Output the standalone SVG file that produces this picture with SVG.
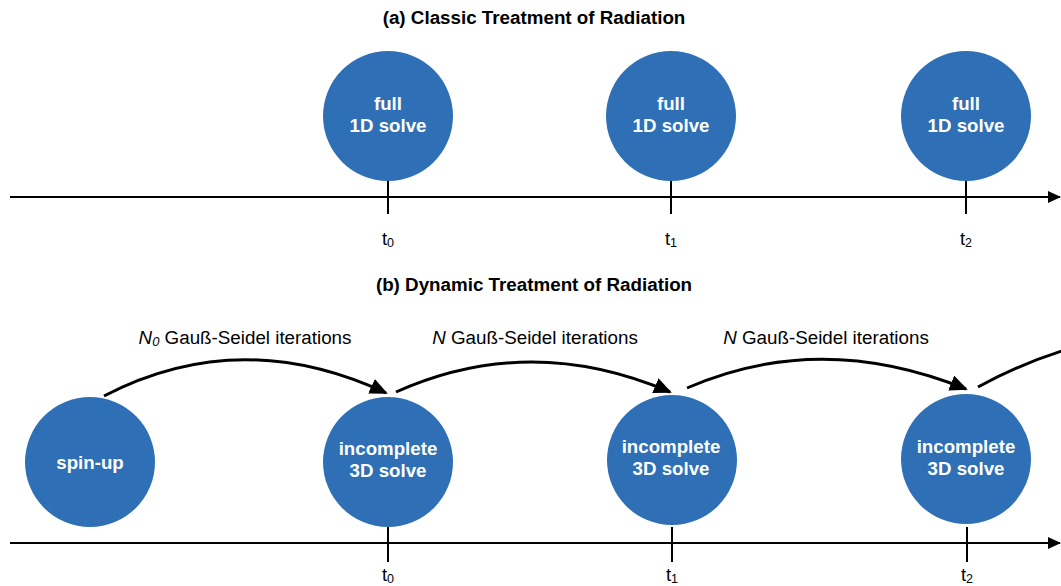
<svg xmlns="http://www.w3.org/2000/svg" width="1061" height="586" viewBox="0 0 1061 586">
<style>
.title{font-family:"Liberation Sans",Arial,sans-serif;font-weight:bold;font-size:18.8px;fill:#000;text-anchor:middle}
.node{fill:#2E6FB5}
.nt{font-family:"Liberation Sans",Arial,sans-serif;font-weight:bold;font-size:18.7px;fill:#fff;text-anchor:middle}
.ax{stroke:#000;stroke-width:2;fill:none}
.tk{stroke:#000;stroke-width:2}
.tl{font-family:"Liberation Sans",Arial,sans-serif;font-size:18.5px;fill:#000;text-anchor:middle}
.arc{stroke:#000;stroke-width:3;fill:none}
.lbl{font-family:"Liberation Sans",Arial,sans-serif;font-size:18.8px;fill:#000;text-anchor:middle}
</style>
<defs>
<marker id="ah" markerWidth="13" markerHeight="12" refX="12" refY="6" orient="auto" markerUnits="userSpaceOnUse"><path d="M0,0 L13,6 L0,12 Z" fill="#000"/></marker>
<marker id="bh" markerWidth="18" markerHeight="16" refX="16" refY="8" orient="auto" markerUnits="userSpaceOnUse"><path d="M0,0 L18,8 L0,16 Z" fill="#000"/></marker>
</defs>
<text class="title" x="534" y="24">(a) Classic Treatment of Radiation</text>
<text class="title" x="534" y="291">(b) Dynamic Treatment of Radiation</text>
<g id="axes">
<line class="ax" x1="10" y1="197" x2="1060" y2="197" marker-end="url(#ah)"/>
<line class="ax" x1="10" y1="543" x2="1060" y2="543" marker-end="url(#ah)"/>
<line class="tk" x1="388" y1="180" x2="388" y2="214"/>
<line class="tk" x1="671" y1="180" x2="671" y2="214"/>
<line class="tk" x1="966" y1="180" x2="966" y2="214"/>
<line class="tk" x1="388" y1="527" x2="388" y2="562"/>
<line class="tk" x1="672" y1="527" x2="672" y2="562"/>
<line class="tk" x1="967" y1="527" x2="967" y2="562"/>
</g>
<g id="tlabels">
<text class="tl" x="388" y="245">t<tspan font-size="12.5" dy="2">0</tspan></text>
<text class="tl" x="671" y="245">t<tspan font-size="12.5" dy="2">1</tspan></text>
<text class="tl" x="966" y="245">t<tspan font-size="12.5" dy="2">2</tspan></text>
<text class="tl" x="388" y="581">t<tspan font-size="12.5" dy="2">0</tspan></text>
<text class="tl" x="672" y="581">t<tspan font-size="12.5" dy="2">1</tspan></text>
<text class="tl" x="967" y="581">t<tspan font-size="12.5" dy="2">2</tspan></text>
</g>
<g id="a-n0"><circle class="node" cx="388" cy="116" r="65"/><text class="nt" x="388" y="110">full</text><text class="nt" x="388" y="132">1D solve</text></g>
<g id="a-n1"><circle class="node" cx="671" cy="116" r="65"/><text class="nt" x="671" y="110">full</text><text class="nt" x="671" y="132">1D solve</text></g>
<g id="a-n2"><circle class="node" cx="966" cy="116" r="65"/><text class="nt" x="966" y="110">full</text><text class="nt" x="966" y="132">1D solve</text></g>
<g id="b-spin"><circle class="node" cx="90" cy="462" r="65"/><text class="nt" x="90" y="469">spin-up</text></g>
<g id="b-n0"><circle class="node" cx="388" cy="462" r="65"/><text class="nt" x="388" y="455">incomplete</text><text class="nt" x="388" y="477">3D solve</text></g>
<g id="b-n1"><circle class="node" cx="672" cy="460" r="65"/><text class="nt" x="671" y="453">incomplete</text><text class="nt" x="671" y="475">3D solve</text></g>
<g id="b-n2"><circle class="node" cx="966" cy="459" r="65"/><text class="nt" x="966" y="453">incomplete</text><text class="nt" x="966" y="475">3D solve</text></g>
<g id="connectors">
<path class="arc" d="M104,396 Q240,325 386,393" marker-end="url(#bh)"/>
<path class="arc" d="M396,392 Q530,332 670,392" marker-end="url(#bh)"/>
<path class="arc" d="M687,388 Q820,330 966,389" marker-end="url(#bh)"/>
<path class="arc" d="M978,387 Q1020,364 1065,350"/>
</g>
<g id="arc-labels">
<text class="lbl" x="245" y="344"><tspan font-style="italic">N<tspan font-size="13" dy="2">0</tspan></tspan><tspan dy="-2"> Gauß-Seidel iterations</tspan></text>
<text class="lbl" x="535" y="344"><tspan font-style="italic">N</tspan> Gauß-Seidel iterations</text>
<text class="lbl" x="826" y="344"><tspan font-style="italic">N</tspan> Gauß-Seidel iterations</text>
</g>
</svg>
